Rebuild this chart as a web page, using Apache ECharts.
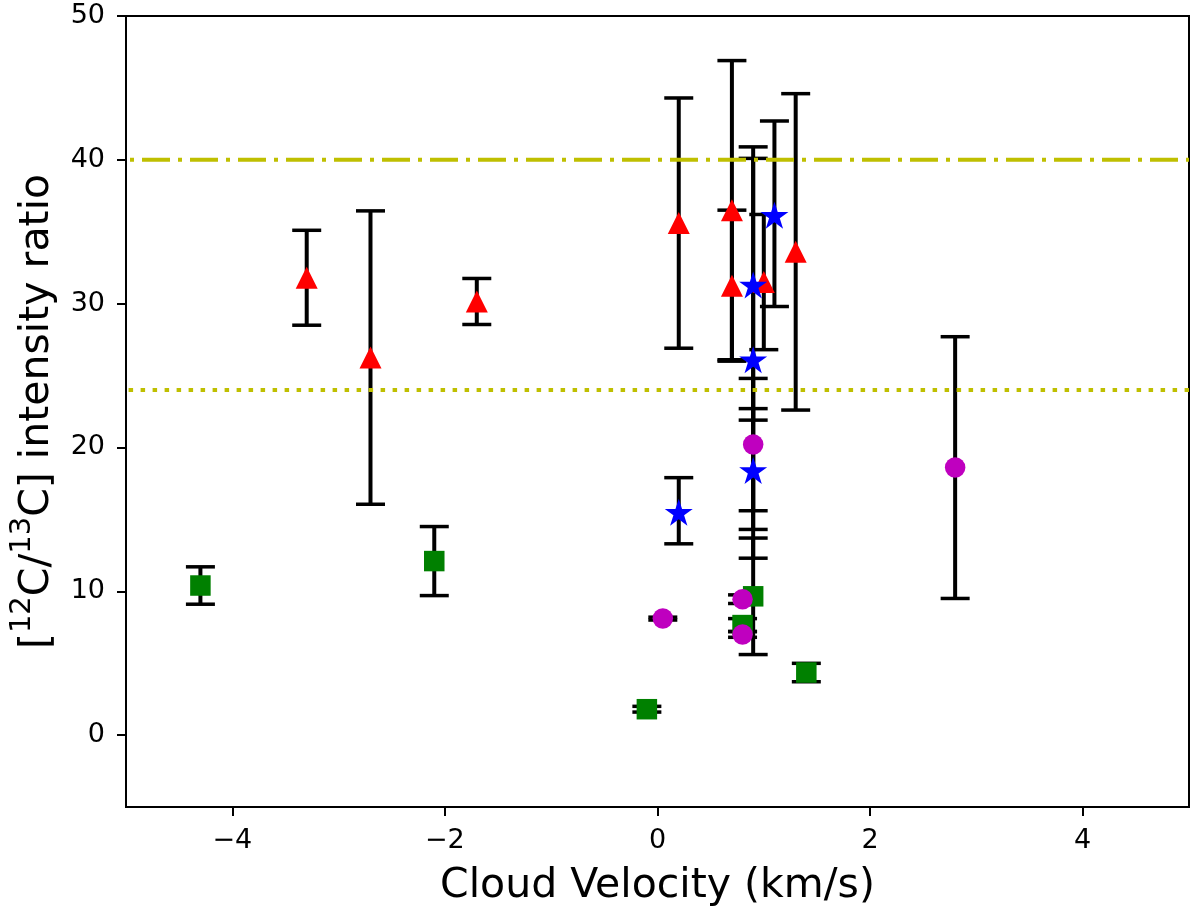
<!DOCTYPE html>
<html>
<head>
<meta charset="utf-8">
<script src="https://cdn.jsdelivr.net/npm/echarts@6/dist/echarts.min.js"></script>
<style>
  html, body { margin: 0; padding: 0; background: #fff; }
  #chart { width: 1200px; height: 912px; }
</style>
</head>
<body>
<div id="chart"></div>
<script>
// values
const triX = [-3.3, -2.7, -1.7, 0.2, 0.7, 0.7, 1.0, 1.3];
const triY = [31.8, 26.25, 30.15, 35.6, 36.5, 31.25, 31.5, 33.6];
const triErr = [3.3, 10.2, 1.6, 8.7, 10.4, 5.25, 4.7, 11.0];

const starX = [0.2, 0.9, 0.9, 0.9, 1.1];
const starY = [15.6, 31.4, 26.2, 18.5, 36.25];
const starErr = [2.3, 9.5, 13.9, 4.2, 6.45];

const circX = [0.05, 0.8, 0.8, 0.9, 2.8];
const circY = [8.1, 9.45, 7.0, 20.2, 18.6];
const circErr = [0.1, 0.3, 0.2, 4.6, 9.1];

const sqX = [-4.3, -2.1, -0.1, 0.8, 0.9, 1.4];
const sqY = [10.4, 12.1, 1.8, 7.65, 9.65, 4.35];
const sqErr = [1.3, 2.4, 0.2, 0.45, 4.05, 0.64];

const upperRef = 40;
const lowerRef = 24;

const xMin = -5, xMax = 5;
const yMin = -5, yMax = 50;
const xTicks = [-4, -2, 0, 2, 4];
const yTicks = [0, 10, 20, 30, 40, 50];

const FONT = 'DejaVu Sans';
const starPath = 'path://M100,0 L122.45,69.1 L195.1,69.1 L136.33,111.8 L158.78,180.9 L100,138.2 L41.22,180.9 L63.67,111.8 L4.9,69.1 L77.55,69.1 Z';

function zip3(a, b, c) {
  return a.map((v, i) => [v, b[i], c[i]]);
}

function minusFmt(v) {
  return v < 0 ? '\u2212' + Math.abs(v) : String(v);
}

function errRender(params, api) {
  const x = api.value(0), y = api.value(1), e = api.value(2);
  const top = api.coord([x, y + e]);
  const bot = api.coord([x, y - e]);
  const w = 14.5;
  const bar = { stroke: '#000', lineWidth: 4 };
  const cap = { stroke: '#000', lineWidth: 3.5 };
  return {
    type: 'group',
    children: [
      { type: 'line', shape: { x1: top[0], y1: top[1], x2: bot[0], y2: bot[1] }, style: bar },
      { type: 'line', shape: { x1: top[0] - w, y1: top[1], x2: top[0] + w, y2: top[1] }, style: cap },
      { type: 'line', shape: { x1: bot[0] - w, y1: bot[1], x2: bot[0] + w, y2: bot[1] }, style: cap }
    ]
  };
}

function errSeries(x, y, e) {
  return {
    type: 'custom',
    renderItem: errRender,
    data: zip3(x, y, e),
    encode: { x: 0, y: 1 },
    z: 2,
    silent: true
  };
}

function markSeries(x, y, symbol, size, color, offset) {
  return {
    type: 'scatter',
    data: x.map((v, i) => [v, y[i]]),
    symbol: symbol,
    symbolSize: size,
    symbolOffset: offset || [0, 0],
    itemStyle: { color: color, opacity: 1 },
    z: 4
  };
}

function refLine(v, color, type, offset) {
  return {
    type: 'line',
    data: [[xMin, v], [xMax, v]],
    showSymbol: false,
    symbol: 'none',
    lineStyle: { color: color, width: 4, type: type, dashOffset: offset, cap: 'butt' },
    z: 3,
    silent: true
  };
}

const chart = echarts.init(document.getElementById('chart'));
chart.setOption({
  animation: false,
  backgroundColor: '#fff',
  grid: {
    left: 125, right: 11, top: 16, bottom: 104,
    show: true, borderColor: '#000', borderWidth: 2
  },
  xAxis: {
    type: 'value',
    min: xMin, max: xMax,
    name: 'Cloud Velocity (km/s)',
    nameLocation: 'middle',
    nameGap: 59,
    nameTextStyle: { fontSize: 41, fontFamily: FONT, color: '#000' },
    axisLine: { show: true, onZero: false, lineStyle: { color: '#000', width: 2 } },
    axisTick: { show: true, length: 9, customValues: xTicks, lineStyle: { color: '#000', width: 2 } },
    axisLabel: { customValues: xTicks, formatter: minusFmt, fontSize: 27, fontFamily: FONT, color: '#000', margin: 20 },
    splitLine: { show: false }
  },
  yAxis: {
    type: 'value',
    min: yMin, max: yMax,
    name: '{b|[}{s|12}{b|C/}{s|13}{b|C] intensity ratio}',
    nameLocation: 'middle',
    nameGap: 68,
    nameTextStyle: {
      fontSize: 41, fontFamily: FONT, color: '#000',
      rich: {
        b: { fontSize: 41, fontFamily: FONT, color: '#000', verticalAlign: 'bottom', lineHeight: 50 },
        s: { fontSize: 29, fontFamily: FONT, color: '#000', verticalAlign: 'top', lineHeight: 29 }
      }
    },
    axisLine: { show: true, onZero: false, lineStyle: { color: '#000', width: 2 } },
    axisTick: { show: true, length: 9, customValues: yTicks, lineStyle: { color: '#000', width: 2 } },
    axisLabel: { customValues: yTicks, formatter: minusFmt, fontSize: 27, fontFamily: FONT, color: '#000', margin: 21 },
    splitLine: { show: false }
  },
  series: [
    errSeries(sqX, sqY, sqErr),
    errSeries(triX, triY, triErr),
    errSeries(starX, starY, starErr),
    errSeries(circX, circY, circErr),
    refLine(upperRef, '#bfbf00', [28, 8, 4, 8], 32),
    refLine(lowerRef, '#bfbf00', [4.5, 7.5], 9.4),
    markSeries(sqX, sqY, 'rect', 20.5, '#008000'),
    markSeries(triX, triY, 'triangle', 22, '#ff0000'),
    markSeries(starX, starY, starPath, [28, 27], '#0000ff', [0, 1.4]),
    markSeries(circX, circY, 'circle', 20.5, '#bf00bf')
  ]
});
</script>
</body>
</html>
